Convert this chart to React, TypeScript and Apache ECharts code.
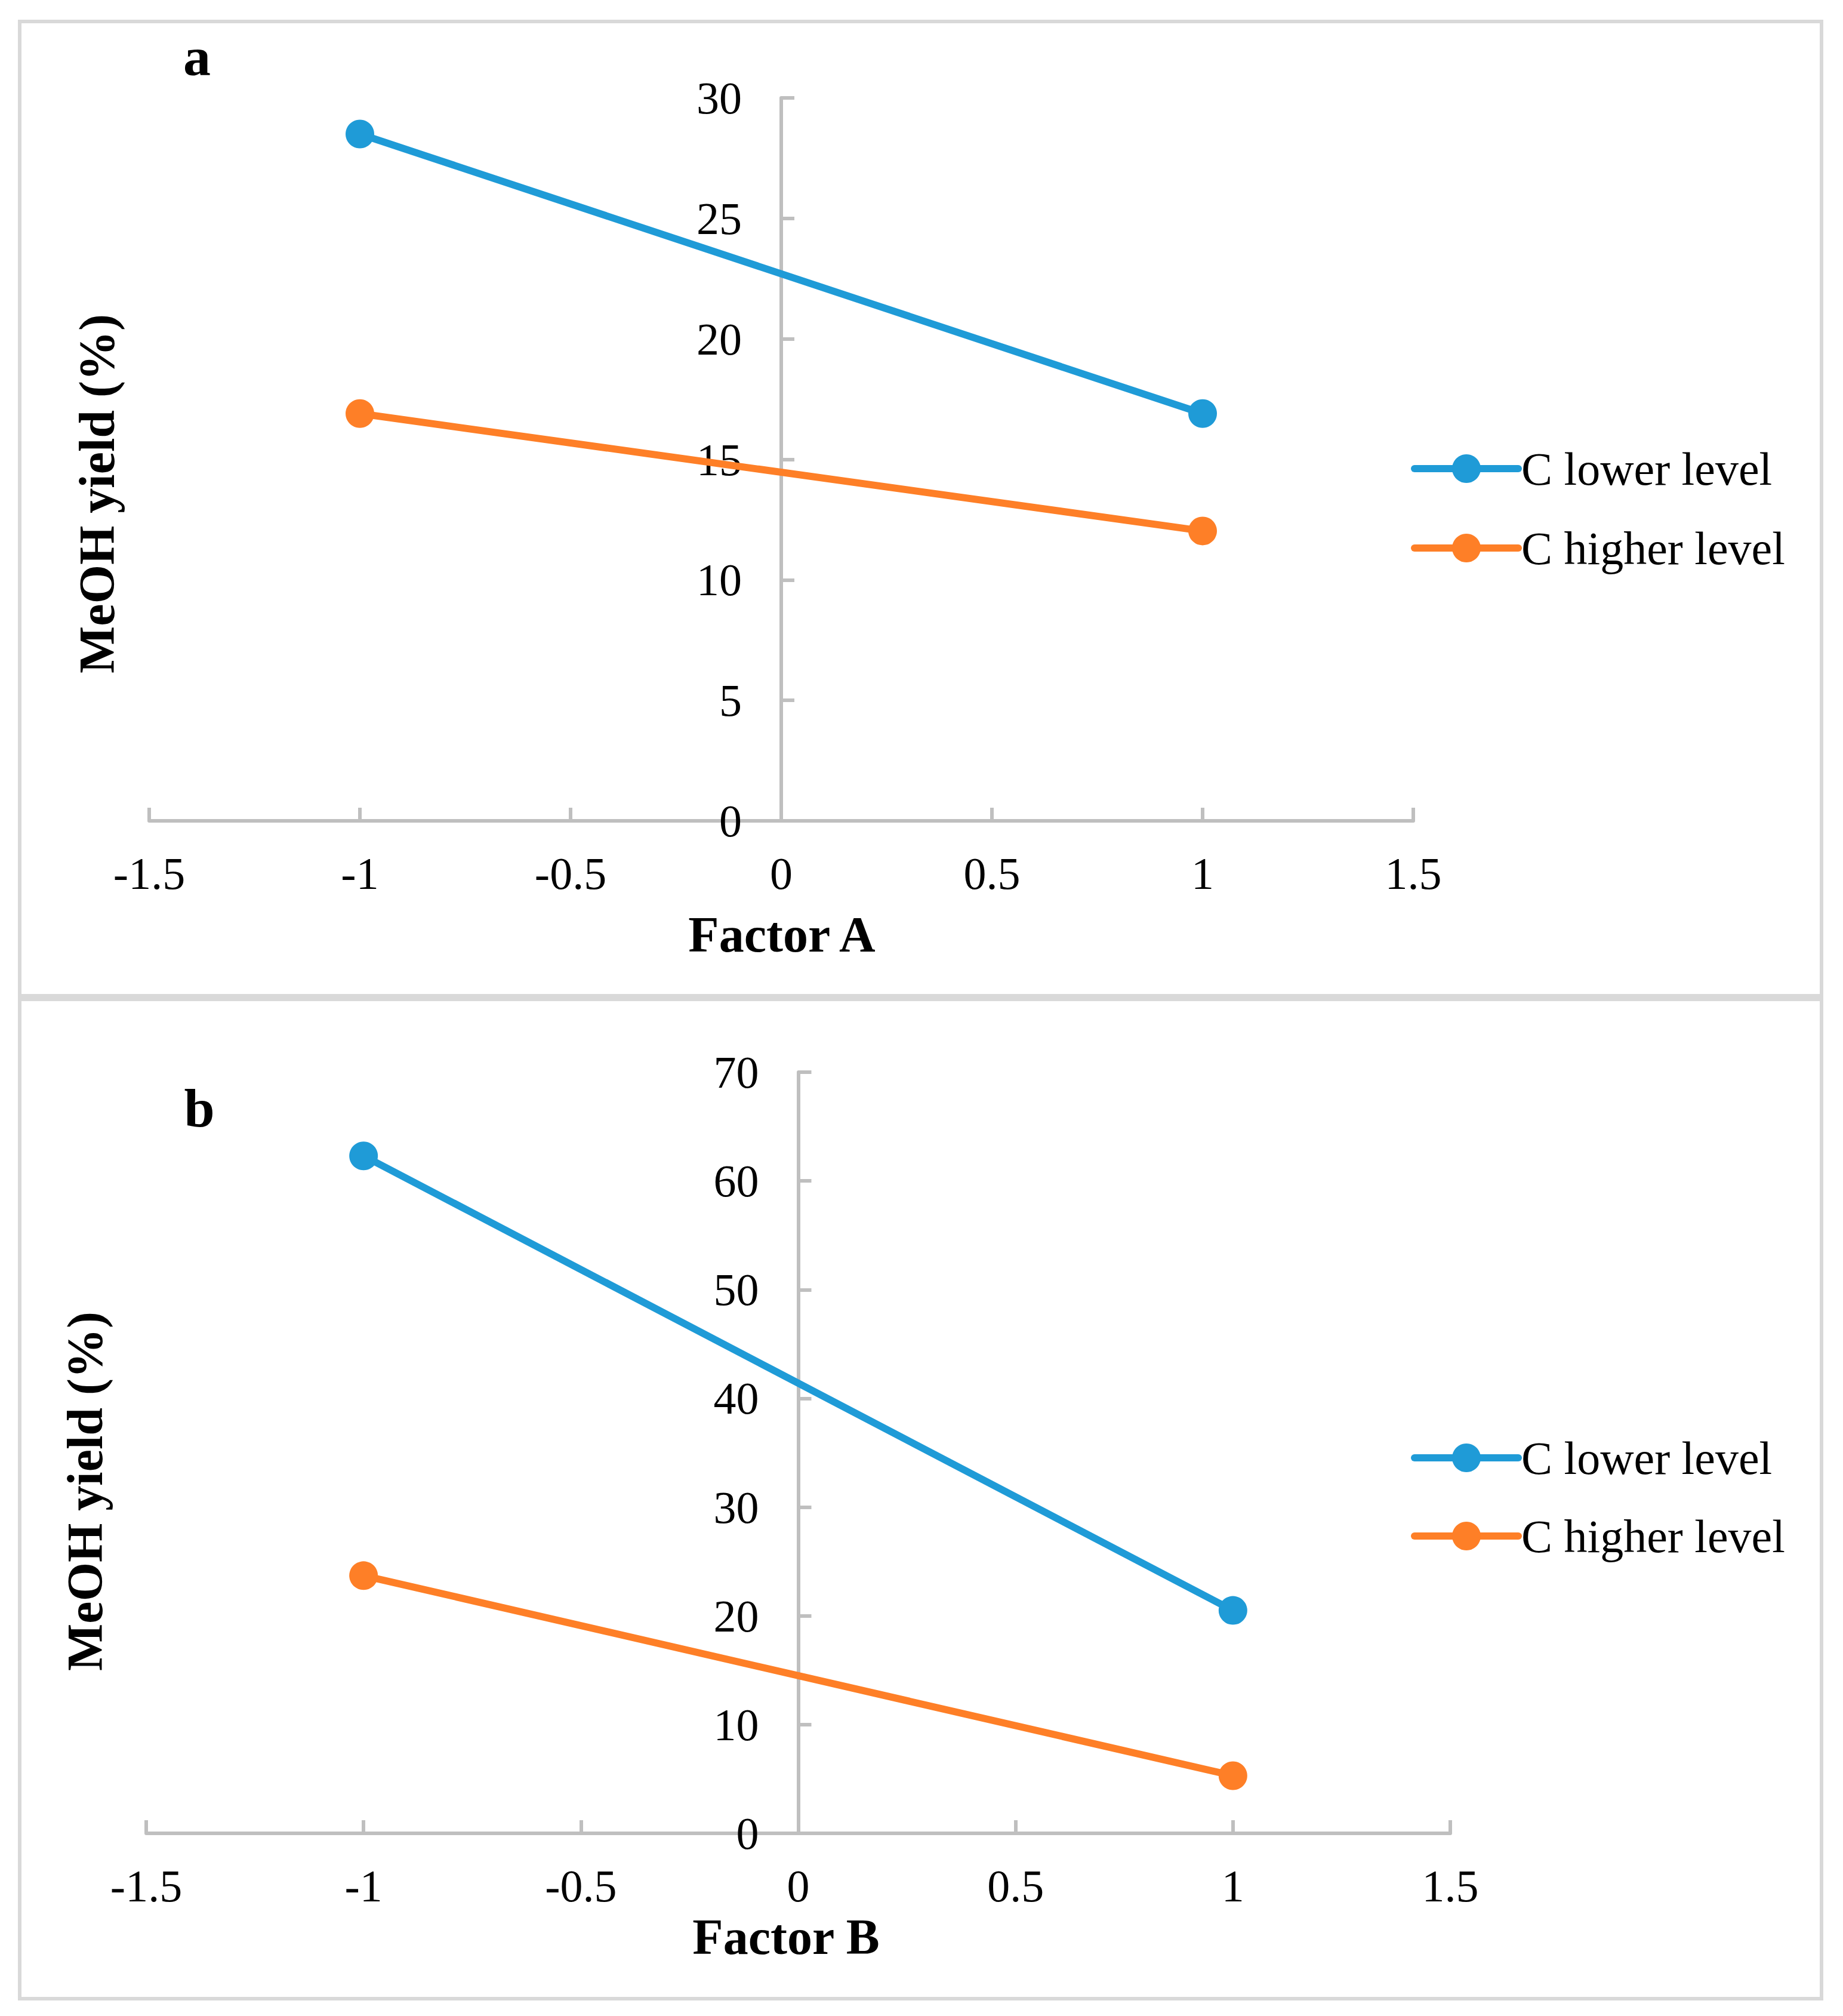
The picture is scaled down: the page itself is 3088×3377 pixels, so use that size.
import React, { useEffect, useRef } from "react";
import * as echarts from "echarts";

// ---- data ----
const factorLevels = [-1, 1];
const seriesNames = ["C lower level", "C higher level"];
const panelALower = [28.5, 16.9];
const panelAHigher = [16.9, 12.03];
const panelBLower = [62.3, 20.5];
const panelBHigher = [23.7, 5.3];
const xTicks = [-1.5, -1, -0.5, 0, 0.5, 1, 1.5];
const yTicksA = [0, 5, 10, 15, 20, 25, 30];
const yTicksB = [0, 10, 20, 30, 40, 50, 60, 70];
const panelTitles = ["a", "b"];
const xTitles = ["Factor A", "Factor B"];
const yTitle = "MeOH yield (%)";

const COLORS = ["#1f9bd7", "#fe7f27"];
const FONT = '"Liberation Serif", "Times New Roman", serif';
const AXIS_GRAY = "#bfbfbf";

const pairs = (ys: number[]) => factorLevels.map((x, i) => [x, ys[i]]);

export default function App() {
  const ref = useRef<HTMLDivElement>(null);

  useEffect(() => {
    document.body.style.margin = "0";
    if (!ref.current) return;
    const chart = echarts.init(ref.current, undefined, { renderer: "svg" });

    const grids = [
      { left: 250, top: 164, width: 2118, height: 1211 },
      { left: 245, top: 1796, width: 2185, height: 1275 },
    ];

    const xAxisBase = (gridIndex: number) => ({
      type: "value",
      gridIndex,
      min: xTicks[0],
      max: xTicks[xTicks.length - 1],
      interval: xTicks[1] - xTicks[0],
      axisLine: { onZero: false, lineStyle: { color: AXIS_GRAY, width: 6 } },
      axisTick: { show: true, inside: true, length: 22, lineStyle: { color: AXIS_GRAY, width: 6 } },
      axisLabel: { color: "#000", fontFamily: FONT, fontSize: 76, margin: 50 },
      splitLine: { show: false },
    });

    // y axis crosses the x axis at x = 0: shift it from the grid's left edge to that spot
    const yAxisBase = (gridIndex: number, ticks: number[]) => {
      const g = grids[gridIndex];
      const xMin = xTicks[0];
      const xMax = xTicks[xTicks.length - 1];
      const zeroOffset = ((0 - xMin) / (xMax - xMin)) * g.width;
      return {
        type: "value",
        gridIndex,
        position: "left",
        offset: -zeroOffset,
        min: ticks[0],
        max: ticks[ticks.length - 1],
        interval: ticks[1] - ticks[0],
        axisLine: { show: true, onZero: false, lineStyle: { color: AXIS_GRAY, width: 6 } },
        axisTick: { show: true, inside: true, length: 22, lineStyle: { color: AXIS_GRAY, width: 6 } },
        axisLabel: { color: "#000", fontFamily: FONT, fontSize: 76, margin: 66 },
        splitLine: { show: false },
      };
    };

    const mkSeries = (name: string, ys: number[], idx: number, color: string) => ({
      name,
      type: "line",
      xAxisIndex: idx,
      yAxisIndex: idx,
      data: pairs(ys),
      symbol: "circle",
      symbolSize: 48,
      itemStyle: { color },
      lineStyle: { color, width: 12 },
    });

    const legendBase = (top: number, gap: number) => ({
      orient: "vertical",
      left: 2359,
      top,
      itemWidth: 174,
      itemHeight: 60,
      itemGap: gap,
      data: seriesNames,
      lineStyle: { width: 12, cap: "round" },
      textStyle: { color: "#000", fontFamily: FONT, fontSize: 78, lineHeight: 78 },
    });

    const txt = (text: string, x: number, y: number, size: number, bold: boolean, rotation = 0) => ({
      type: "text",
      x,
      y,
      rotation,
      style: {
        text,
        fill: "#000",
        fontFamily: FONT,
        fontSize: size,
        fontWeight: bold ? "bold" : "normal",
        align: "center",
        verticalAlign: "middle",
      },
    });

    chart.setOption({
      animation: false,
      backgroundColor: "#fff",
      color: COLORS,
      grid: grids,
      xAxis: [xAxisBase(0), xAxisBase(1)],
      yAxis: [yAxisBase(0, yTicksA), yAxisBase(1, yTicksB)],
      legend: [legendBase(741, 55), legendBase(2398, 53)],
      series: [
        mkSeries(seriesNames[0], panelALower, 0, COLORS[0]),
        mkSeries(seriesNames[1], panelAHigher, 0, COLORS[1]),
        mkSeries(seriesNames[0], panelBLower, 1, COLORS[0]),
        mkSeries(seriesNames[1], panelBHigher, 1, COLORS[1]),
      ],
      graphic: [
        {
          type: "rect",
          shape: { x: 33, y: 36, width: 3019, height: 1632 },
          style: { fill: "none", stroke: "#d9d9d9", lineWidth: 6 },
          silent: true,
        },
        {
          type: "rect",
          shape: { x: 33, y: 1674, width: 3019, height: 1674 },
          style: { fill: "none", stroke: "#d9d9d9", lineWidth: 6 },
          silent: true,
        },
        txt(panelTitles[0], 330, 95, 92, true),
        txt(panelTitles[1], 334, 1856, 92, true),
        txt(xTitles[0], 1310, 1565, 84, true),
        txt(xTitles[1], 1317, 3244, 84, true),
        txt(yTitle, 162, 827, 84, true, Math.PI / 2),
        txt(yTitle, 142, 2498, 84, true, Math.PI / 2),
      ],
    });

    return () => chart.dispose();
  }, []);

  return <div ref={ref} style={{ width: 3088, height: 3377 }} />;
}
